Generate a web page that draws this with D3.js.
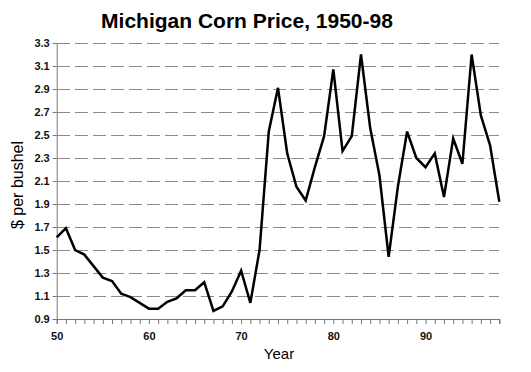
<!DOCTYPE html>
<html>
<head>
<meta charset="utf-8">
<script src="https://cdn.jsdelivr.net/npm/d3@7"></script>
<style>
  html, body { margin: 0; padding: 0; background: #fff; }
  svg { display: block; }
</style>
</head>
<body>
<svg id="chart" width="531" height="372"></svg>
<script>
const years = d3.range(1950, 1999);
const prices = [1.61, 1.69, 1.50, 1.46, 1.36, 1.26, 1.23, 1.12, 1.09, 1.04,
                0.99, 0.99, 1.05, 1.08, 1.15, 1.15, 1.22, 0.97, 1.01, 1.14,
                1.32, 1.04, 1.50, 2.53, 2.91, 2.34, 2.05, 1.93, 2.22, 2.49,
                3.07, 2.36, 2.49, 3.20, 2.56, 2.15, 1.44, 2.05, 2.53, 2.30,
                2.22, 2.34, 1.96, 2.47, 2.25, 3.20, 2.67, 2.41, 1.92];
const yTicks = [0.9, 1.1, 1.3, 1.5, 1.7, 1.9, 2.1, 2.3, 2.5, 2.7, 2.9, 3.1, 3.3];
const xTickLabels = [1950, 1960, 1970, 1980, 1990];
const titleText = "Michigan Corn Price, 1950-98";
const xTitle = "Year";
const yTitle = "$ per bushel";

const svg = d3.select("#chart");
const mLeft = 56.7, mRight = 499.3, mTop = 43, mBottom = 319;

const x = d3.scaleLinear().domain([1950, 1998]).range([mLeft, mRight]);
const y = d3.scaleLinear().domain([0.9, 3.3]).range([mBottom, mTop]);

// gridlines
svg.append("g").selectAll("line")
  .data(yTicks.filter(d => d > 0.9))
  .join("line")
  .attr("x1", mLeft).attr("x2", mRight)
  .attr("y1", d => y(d)).attr("y2", d => y(d))
  .attr("stroke", "#8a8a8a").attr("stroke-width", 1)
  .attr("stroke-dasharray", "13,5")
  .attr("shape-rendering", "crispEdges");

// y axis
const yAxis = svg.append("g")
  .attr("transform", `translate(${mLeft},0)`)
  .call(d3.axisLeft(y).tickValues(yTicks).tickSize(4).tickPadding(3).tickFormat(d3.format(".1f")));
yAxis.select(".domain").attr("stroke", "#777");
yAxis.selectAll(".tick line").attr("stroke", "#777");
yAxis.selectAll("text")
  .attr("font-family", "Liberation Sans, Arial, sans-serif")
  .attr("font-size", 11).attr("font-weight", "bold").attr("fill", "#111");

// x axis
const xAxis = svg.append("g")
  .attr("transform", `translate(0,${mBottom})`)
  .call(d3.axisBottom(x).tickValues(years).tickSize(5).tickPadding(8)
    .tickFormat(d => xTickLabels.includes(d) ? String(d % 100) : ""));
xAxis.select(".domain").attr("stroke", "#777");
xAxis.selectAll(".tick line").attr("stroke", "#777");
xAxis.selectAll("text")
  .attr("font-family", "Liberation Sans, Arial, sans-serif")
  .attr("font-size", 11).attr("font-weight", "bold").attr("fill", "#111");

// line
const line = d3.line().x((d, i) => x(years[i])).y(d => y(d));
svg.append("path")
  .datum(prices)
  .attr("d", line)
  .attr("fill", "none")
  .attr("stroke", "#000")
  .attr("stroke-width", 2.5)
  .attr("stroke-linejoin", "miter");

// title
svg.append("text")
  .attr("x", 247).attr("y", 28)
  .attr("text-anchor", "middle")
  .attr("font-family", "Liberation Sans, Arial, sans-serif")
  .attr("font-size", 21).attr("font-weight", "bold")
  .text(titleText);

// axis titles
svg.append("text")
  .attr("x", 279).attr("y", 359)
  .attr("text-anchor", "middle")
  .attr("font-family", "Liberation Sans, Arial, sans-serif")
  .attr("font-size", 15)
  .text(xTitle);

svg.append("text")
  .attr("transform", "translate(23,185) rotate(-90)")
  .attr("text-anchor", "middle")
  .attr("font-family", "Liberation Sans, Arial, sans-serif")
  .attr("font-size", 16)
  .text(yTitle);
</script>
</body>
</html>
